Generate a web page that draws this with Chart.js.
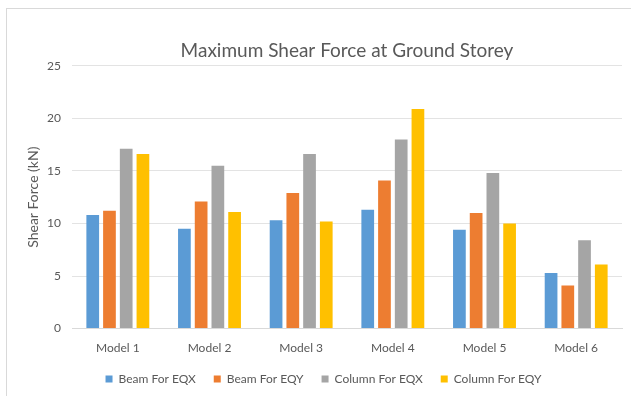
<!DOCTYPE html>
<html>
<head>
<meta charset="utf-8">
<script src="https://cdn.jsdelivr.net/npm/chart.js@4/dist/chart.umd.min.js"></script>
<style>
  html, body { margin: 0; padding: 0; background: #ffffff; }
  #wrap { position: relative; width: 631px; height: 396px; overflow: hidden; }
  #frame { position: absolute; left: 6px; top: 8px; right: -2px; bottom: -2px;
           border-left: 1px solid #d9d9d9; border-top: 1px solid #d9d9d9; }
  canvas { position: absolute; left: 0; top: 0; }
</style>
</head>
<body>
<div id="wrap">
  <div id="frame"></div>
  <canvas id="chart" width="631" height="396"></canvas>
</div>
<script>
// Shear force (kN) at the ground storey for each model
const categories = ['Model 1', 'Model 2', 'Model 3', 'Model 4', 'Model 5', 'Model 6'];
const beamEQX    = [10.8, 9.5, 10.3, 11.3, 9.4, 5.3];
const beamEQY    = [11.2, 12.1, 12.9, 14.1, 11.0, 4.1];
const columnEQX  = [17.1, 15.5, 16.6, 18.0, 14.8, 8.4];
const columnEQY  = [16.6, 11.1, 10.2, 20.9, 10.0, 6.1];
const seriesNames = ['Beam For EQX', 'Beam For EQY', 'Column For EQX', 'Column For EQY'];
const yTicks = [0, 5, 10, 15, 20, 25];

const colors = ['#5B9BD5', '#ED7D31', '#A5A5A5', '#FFC000'];
const values = [beamEQX, beamEQY, columnEQX, columnEQY];
const FONT = 'Lato, "Open Sans", sans-serif';
const TEXT = '#595959';

new Chart(document.getElementById('chart'), {
  type: 'bar',
  data: {
    labels: categories,
    datasets: values.map((v, i) => ({
      label: seriesNames[i],
      data: v,
      backgroundColor: colors[i],
      borderWidth: 0,
      categoryPercentage: 0.73,
      barPercentage: 0.76
    }))
  },
  options: {
    responsive: false,
    animation: false,
    layout: { padding: { left: 25, right: 9, top: 0, bottom: 1 } },
    plugins: {
      title: {
        display: true,
        text: 'Maximum Shear Force at Ground Storey',
        color: TEXT,
        fullSize: false,
        font: { family: FONT, size: 19, weight: 'normal' },
        padding: { top: 39, bottom: 4 }
      },
      legend: {
        position: 'bottom',
        labels: {
          color: TEXT,
          font: { family: FONT, size: 12 },
          boxWidth: 7,
          boxHeight: 7,
          padding: 18
        }
      },
      tooltip: { enabled: false }
    },
    scales: {
      x: {
        grid: { display: false, drawTicks: false },
        border: { display: true, color: '#d9d9d9' },
        ticks: { color: TEXT, font: { family: FONT, size: 12 }, padding: 12 },
        // labels hang below a slimmer axis box so the legend sits close
        afterFit: axis => { axis.height = Math.max(0, axis.height - 12); }
      },
      y: {
        min: 0,
        max: 25,
        afterBuildTicks: axis => { axis.ticks = yTicks.map(v => ({ value: v })); },
        afterFit: axis => { axis.width = 47; },
        grid: { color: '#e3e3e3', drawTicks: false },
        border: { display: false },
        ticks: { color: TEXT, font: { family: FONT, size: 12 }, padding: 11 },
        title: {
          display: true,
          text: 'Shear Force (kN)',
          color: TEXT,
          font: { family: FONT, size: 14 },
          padding: { top: 0, bottom: 0 }
        }
      }
    }
  }
});
</script>
</body>
</html>
